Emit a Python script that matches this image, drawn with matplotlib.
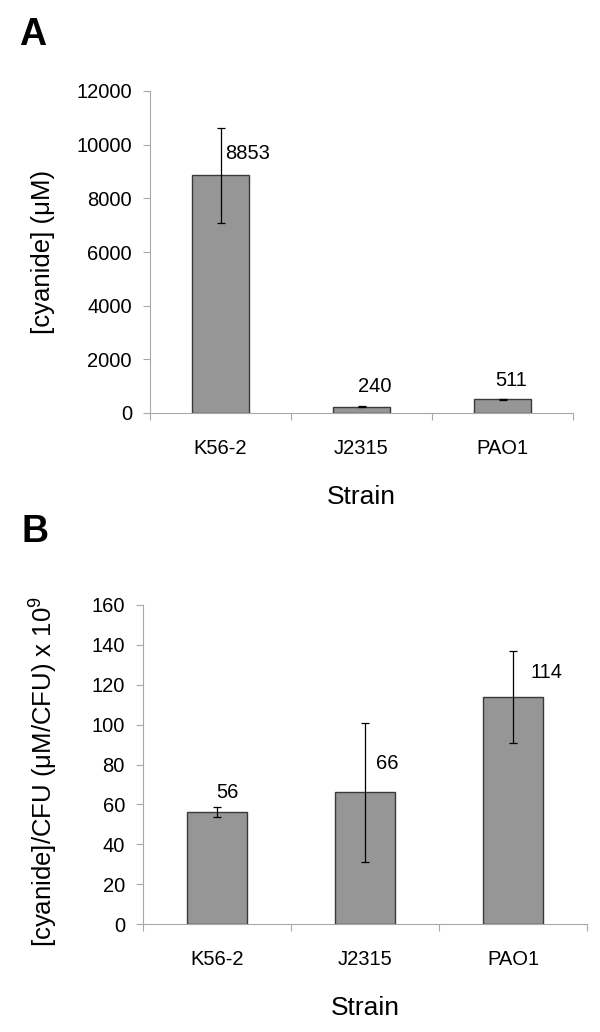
import matplotlib
matplotlib.use("Agg")
import matplotlib.pyplot as plt
import numpy as np

plt.rcParams['font.family'] = ['Liberation Sans', 'DejaVu Sans']
plt.rcParams['mathtext.fontset'] = 'custom'
plt.rcParams['mathtext.rm'] = 'Liberation Sans'
plt.rcParams['mathtext.it'] = 'Liberation Sans'

# ---- data ----
strains = ["K56-2", "J2315", "PAO1"]
cyanide_uM = [8853, 240, 511]
cyanide_err = [1780, 30, 20]
cyanide_labels = ["8853", "240", "511"]

per_cfu = [56, 66, 114]
per_cfu_err = [2.5, 35, 23]
per_cfu_labels = ["56", "66", "114"]

yticks_a = [0, 2000, 4000, 6000, 8000, 10000, 12000]
yticks_b = [0, 20, 40, 60, 80, 100, 120, 140, 160]

# ---- layout / style ----
W, H = 600, 1032
fig = plt.figure(figsize=(W / 100, H / 100), dpi=100)

bar_color = "#969696"
edge_color = "#3a3a3a"
axis_color = "#a8a8a8"
PT = 72 / 100  # points per pixel
TICK_FS = 14.5

def make_panel(rect, values, errs, labels, yticks, ylim, width, label_off, ylabel, ylabel_xy):
    ax = fig.add_axes(rect)
    x = np.arange(len(strains))
    ax.bar(x, values, width=width, color=bar_color, edgecolor=edge_color,
           linewidth=1.0, zorder=2)
    ax.errorbar(x, values, yerr=errs, fmt='none', ecolor='black',
                elinewidth=0.9, capsize=3, capthick=0.9, zorder=3)
    for xi, v, lab, (dx, dy) in zip(x, values, labels, label_off):
        ax.annotate(lab, (xi, v), xytext=(dx * PT, dy * PT), textcoords='offset points',
                    ha='center', va='center', fontsize=TICK_FS, zorder=4)
    ax.set_xlim(-0.5, len(strains) - 0.5)
    ax.set_ylim(*ylim)
    ax.set_yticks(yticks)
    ax.set_yticklabels([str(t) for t in yticks], fontsize=TICK_FS)
    ax.set_xticks(x)
    ax.set_xticklabels(strains, fontsize=TICK_FS)
    ax.set_xticks(np.arange(-0.5, len(strains)), minor=True)
    ax.tick_params(axis='x', which='major', length=0, pad=19)
    ax.tick_params(axis='x', which='minor', length=5, width=0.8, color=axis_color, direction='out')
    ax.tick_params(axis='y', which='major', length=5, width=0.8, color=axis_color, pad=8)
    for s in ['top', 'right']:
        ax.spines[s].set_visible(False)
    for s in ['left', 'bottom']:
        ax.spines[s].set_color(axis_color)
        ax.spines[s].set_linewidth(0.8)
    ax.set_xlabel("Strain", fontsize=19, va='top')
    ax.xaxis.set_label_coords(0.5, -0.225)
    fig.text(ylabel_xy[0] / W, 1 - ylabel_xy[1] / H, ylabel, rotation=90,
             ha='center', va='center', fontsize=18.5)
    return ax

# panel A
ax_a = make_panel([150 / W, 1 - 413 / H, (573 - 150) / W, (413 - 91) / H],
                  cyanide_uM, cyanide_err, cyanide_labels, yticks_a, (0, 12000), 0.41,
                  [(27, 22), (13, 20), (9, 19)], "[cyanide] (\u03bcM)", (43, 252))
# panel B
ax_b = make_panel([143 / W, 1 - 924 / H, (587 - 143) / W, (924 - 605) / H],
                  per_cfu, per_cfu_err, per_cfu_labels, yticks_b, (0, 160), 0.40,
                  [(10, 20), (22, 29), (34, 24)],
                  "[cyanide]/CFU (\u03bcM/CFU) x 10$^{9}$", (44, 771))

fig.text(19 / W, 1 - 45 / H, "A", fontsize=27, fontweight='bold', ha='left', va='baseline')
fig.text(21 / W, 1 - 542 / H, "B", fontsize=27, fontweight='bold', ha='left', va='baseline')

fig.savefig("out.png", dpi=100, facecolor='white')
